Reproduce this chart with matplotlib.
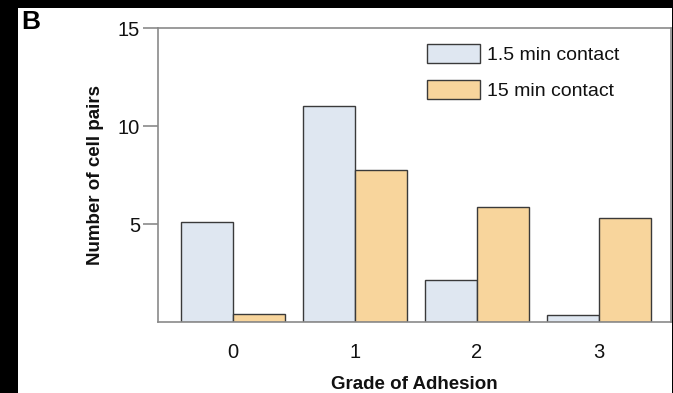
import matplotlib
matplotlib.use("Agg")
import matplotlib.pyplot as plt
from matplotlib.patches import Rectangle
import numpy as np

plt.rcParams['font.family'] = ['Liberation Sans', 'DejaVu Sans']

grades = ["0", "1", "2", "3"]
short_contact = [5.1, 11.0, 2.15, 0.35]
long_contact = [0.4, 7.75, 5.87, 5.3]
series_labels = ["1.5 min contact", "15 min contact"]
yticks = [5, 10, 15]

W, H = 673, 393
fig = plt.figure(figsize=(W / 100, H / 100), dpi=100, facecolor="black")
# white panel
fig.patches.append(Rectangle((18 / W, 0), (672 - 18) / W, (393 - 8) / H,
                             transform=fig.transFigure, facecolor="white",
                             edgecolor="none", zorder=-10))

ax = fig.add_axes([158 / W, 1 - 322 / H, (671 - 158) / W, (322 - 28) / H])
ax.set_facecolor("white")
ax.set_zorder(1)

x = np.arange(len(grades))
bw = 0.43
edge = "#3a3a3a"
b1 = ax.bar(x - bw / 2, short_contact, bw, color="#dfe7f1", edgecolor=edge,
            linewidth=1.0, label=series_labels[0], zorder=2)
b2 = ax.bar(x + bw / 2, long_contact, bw, color="#f8d59c", edgecolor=edge,
            linewidth=1.0, label=series_labels[1], zorder=2)

ax.set_xlim(-0.615, 3.59)
ax.set_ylim(0, 15)
ax.set_yticks(yticks)
ax.set_xticks(x)
ax.set_xticklabels(grades)

for s in ax.spines.values():
    s.set_color("#8a8a8a")
    s.set_linewidth(1.2)

ax.tick_params(axis="y", length=11, width=1.2, color="#8a8a8a", pad=2,
               labelsize=14.5, labelcolor="#111111")
ax.tick_params(axis="x", length=0, pad=15, labelsize=14.5, labelcolor="#111111")

ax.set_ylabel("Number of cell pairs", fontsize=13.5, fontweight="bold",
              labelpad=10, color="#111111")
ax.set_xlabel("Grade of Adhesion", fontsize=13.5, fontweight="bold",
              labelpad=10, color="#111111")

fs = 14
fpx = fs * 100 / 72
leg = ax.legend(loc="upper left",
                bbox_to_anchor=((427 - 158) / (671 - 158), 1 - (44 - 28) / (322 - 28)),
                frameon=False, fontsize=fs, handlelength=53 / fpx,
                handleheight=22 / fpx, handletextpad=7 / fpx,
                labelspacing=0.8, borderpad=0, borderaxespad=0)
for t in leg.get_texts():
    t.set_color("#111111")

fig.text(21 / W, 1 - 10 / H, "B", fontsize=19, fontweight="bold",
         ha="left", va="top", color="black")

fig.savefig("out.png", dpi=100, facecolor=fig.get_facecolor())
